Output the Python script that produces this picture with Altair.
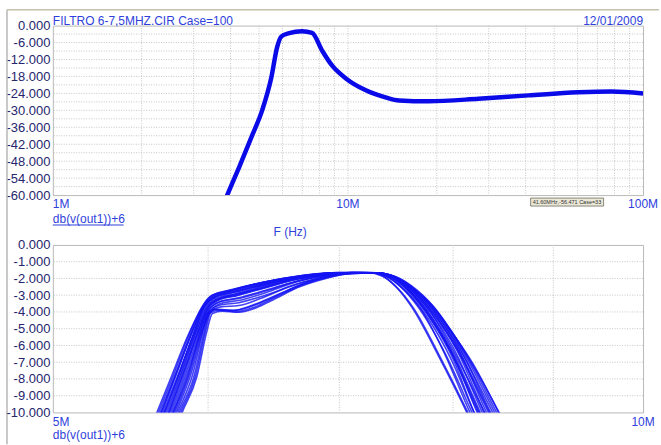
import altair as alt
import pandas as pd

# ---- wide sweep, 1 MHz .. 100 MHz (frequency in MHz, level in dB) ----
TOP_F = [3.70, 3.90, 4.28, 4.74, 5.12, 5.50, 5.75, 5.94, 6.32, 6.99, 7.56, 8.17,
         8.83, 9.84, 11.5, 13.4, 14.9, 18.8, 27.7, 40.9, 60.3, 78.0, 100.0]
TOP_DB = [-66.0, -60.0, -50.1, -38.8, -30.0, -18.4, -7.8, -3.9, -2.7, -2.0, -2.6, -8.8,
          -14.1, -18.7, -22.9, -25.4, -26.5, -26.8, -25.9, -24.7, -23.6, -23.3, -24.0]

# ---- Monte Carlo runs, passband detail 5 MHz .. 10 MHz: (MHz, dB) ----
RUN_01 = [(5.40, -15.6), (5.65, -10.0), (5.75, -7.8), (5.85, -5.6), (5.95, -3.9), (6.02, -3.1),
          (6.15, -2.75), (6.40, -2.25), (6.70, -1.85), (7.00, -1.66), (7.30, -1.66), (7.45, -1.9),
          (7.60, -2.5), (7.80, -3.6), (8.00, -5.3), (8.20, -7.3), (8.40, -9.5), (8.60, -11.8)]
RUN_02 = [(5.40, -16.2), (5.68, -10.0), (5.78, -7.7), (5.88, -5.4), (5.97, -3.7), (6.04, -3.15),
          (6.20, -2.8), (6.45, -2.3), (6.70, -1.9), (7.00, -1.67), (7.25, -1.66), (7.35, -1.8),
          (7.48, -2.5), (7.62, -3.7), (7.87, -6.7), (8.13, -10.0), (8.30, -12.3)]
RUN_03 = [(5.60, -15.5), (5.82, -10.0), (5.92, -7.9), (5.99, -5.2), (6.03, -4.1), (6.10, -3.95),
          (6.22, -4.02), (6.35, -3.75), (6.47, -3.3), (6.68, -2.5), (6.89, -2.0), (7.05, -1.75),
          (7.30, -1.68), (7.45, -1.85), (7.60, -2.6), (7.80, -4.1), (8.00, -6.3), (8.30, -10.0),
          (8.45, -11.9)]
RUN_04 = [(5.55, -15.8), (5.79, -10.0), (5.89, -7.8), (5.96, -5.3), (6.00, -4.1), (6.06, -3.85),
          (6.18, -3.9), (6.32, -3.6), (6.50, -3.0), (6.70, -2.35), (6.90, -1.9), (7.10, -1.68),
          (7.30, -1.67), (7.45, -1.9), (7.60, -2.7), (7.80, -4.3), (8.00, -6.6), (8.25, -10.0),
          (8.40, -12.0)]
RUN_05 = [(5.45, -16.0), (5.72, -10.0), (5.82, -7.6), (5.92, -5.1), (5.99, -3.75), (6.06, -3.25),
          (6.20, -2.95), (6.40, -2.55), (6.65, -2.05), (6.90, -1.75), (7.10, -1.65), (7.30, -1.66),
          (7.45, -1.95), (7.60, -2.8), (7.80, -4.5), (8.00, -6.8), (8.20, -10.0), (8.35, -12.0)]
RUN_06 = [(5.50, -15.8), (5.75, -10.0), (5.85, -7.6), (5.94, -5.2), (6.01, -3.8), (6.08, -3.4),
          (6.22, -3.2), (6.40, -2.8), (6.65, -2.2), (6.90, -1.8), (7.10, -1.66), (7.30, -1.66),
          (7.45, -1.85), (7.60, -2.5), (7.80, -3.9), (8.05, -6.3), (8.35, -10.0), (8.50, -11.9)]
RUN_07 = [(5.45, -15.6), (5.70, -10.0), (5.80, -7.7), (5.90, -5.3), (5.98, -3.6), (6.05, -3.1),
          (6.20, -2.75), (6.45, -2.25), (6.70, -1.88), (7.00, -1.66), (7.30, -1.66), (7.45, -1.9),
          (7.60, -2.6), (7.80, -4.1), (8.00, -6.1), (8.28, -10.0), (8.45, -12.2)]
RUN_08 = [(5.52, -15.7), (5.77, -10.0), (5.87, -7.7), (5.95, -5.3), (6.01, -4.0), (6.08, -3.6),
          (6.22, -3.45), (6.40, -3.05), (6.65, -2.35), (6.90, -1.85), (7.10, -1.67), (7.30, -1.66),
          (7.45, -1.85), (7.60, -2.45), (7.80, -3.75), (8.05, -6.1), (8.38, -10.0), (8.55, -12.1)]
RUN_09 = [(5.42, -15.6), (5.67, -10.0), (5.77, -7.8), (5.87, -5.5), (5.96, -3.7), (6.03, -3.0),
          (6.18, -2.65), (6.45, -2.15), (6.70, -1.82), (7.00, -1.65), (7.28, -1.66), (7.42, -1.95),
          (7.56, -2.75), (7.72, -4.1), (7.92, -6.4), (8.18, -10.0), (8.35, -12.3)]
RUN_10 = [(5.57, -15.6), (5.80, -10.0), (5.90, -7.9), (5.97, -5.3), (6.01, -4.1), (6.08, -3.9),
          (6.20, -3.98), (6.34, -3.7), (6.50, -3.1), (6.72, -2.35), (6.92, -1.92), (7.10, -1.7),
          (7.30, -1.67), (7.48, -1.9), (7.62, -2.45), (7.82, -3.7), (8.08, -6.2), (8.40, -10.0),
          (8.55, -11.8)]
RUN_11 = [(5.48, -15.8), (5.74, -10.0), (5.84, -7.6), (5.93, -5.2), (6.00, -3.8), (6.07, -3.3),
          (6.22, -3.0), (6.42, -2.55), (6.68, -2.0), (6.92, -1.72), (7.12, -1.65), (7.30, -1.67),
          (7.45, -1.95), (7.60, -2.75), (7.80, -4.4), (8.00, -6.6), (8.23, -10.0), (8.40, -12.2)]
RUN_12 = [(5.46, -15.7), (5.71, -10.0), (5.81, -7.7), (5.91, -5.3), (5.99, -3.65), (6.06, -3.2),
          (6.20, -2.9), (6.42, -2.4), (6.68, -1.95), (6.95, -1.7), (7.15, -1.65), (7.32, -1.67),
          (7.47, -1.9), (7.62, -2.55), (7.82, -3.95), (8.05, -6.2), (8.32, -10.0), (8.48, -11.9)]
RUN_13 = [(5.52, -15.6), (5.76, -10.0), (5.86, -7.8), (5.94, -5.3), (5.99, -4.1), (6.05, -3.85),
          (6.17, -3.92), (6.30, -3.7), (6.47, -3.15), (6.68, -2.4), (6.90, -1.9), (7.08, -1.7),
          (7.26, -1.66), (7.40, -1.9), (7.54, -2.6), (7.70, -3.8), (7.90, -6.2), (8.16, -10.0),
          (8.32, -12.1)]
RUN_14 = [(5.44, -15.6), (5.69, -10.0), (5.79, -7.8), (5.89, -5.5), (5.97, -3.7), (6.04, -3.05),
          (6.18, -2.7), (6.42, -2.2), (6.70, -1.84), (7.00, -1.66), (7.30, -1.66), (7.45, -1.88),
          (7.60, -2.45), (7.80, -3.55), (8.02, -5.5), (8.20, -7.4), (8.42, -10.0), (8.60, -12.1)]
RUN_15 = [(5.54, -15.7), (5.78, -10.0), (5.88, -7.7), (5.96, -5.2), (6.02, -3.9), (6.09, -3.5),
          (6.23, -3.3), (6.42, -2.85), (6.66, -2.2), (6.90, -1.8), (7.10, -1.66), (7.30, -1.66),
          (7.45, -1.92), (7.60, -2.7), (7.80, -4.3), (8.02, -6.7), (8.26, -10.0), (8.42, -12.0)]
RUN_16 = [(5.48, -15.7), (5.73, -10.0), (5.83, -7.6), (5.93, -5.2), (6.00, -3.7), (6.07, -3.25),
          (6.21, -2.95), (6.42, -2.45), (6.68, -1.98), (6.95, -1.7), (7.15, -1.65), (7.32, -1.66),
          (7.47, -1.88), (7.62, -2.5), (7.82, -3.85), (8.06, -6.1), (8.36, -10.0), (8.52, -11.9)]
RUN_17 = [(5.41, -15.6), (5.66, -10.0), (5.76, -7.8), (5.86, -5.5), (5.95, -3.8), (6.02, -3.05),
          (6.16, -2.7), (6.42, -2.2), (6.70, -1.83), (7.00, -1.65), (7.28, -1.66), (7.43, -1.92),
          (7.58, -2.65), (7.76, -4.1), (7.98, -6.4), (8.24, -10.0), (8.40, -12.1)]
RUN_18 = [(5.58, -15.6), (5.81, -10.0), (5.91, -7.9), (5.98, -5.2), (6.02, -4.0), (6.09, -3.7),
          (6.22, -3.62), (6.38, -3.2), (6.58, -2.55), (6.80, -2.05), (7.00, -1.75), (7.20, -1.66),
          (7.34, -1.68), (7.48, -1.95), (7.62, -2.65), (7.82, -4.1), (8.06, -6.5), (8.34, -10.0),
          (8.50, -12.0)]
RUN_19 = [(5.45, -15.6), (5.70, -10.0), (5.80, -7.7), (5.90, -5.3), (5.98, -3.65), (6.05, -3.15),
          (6.20, -2.8), (6.45, -2.28), (6.70, -1.9), (7.00, -1.66), (7.24, -1.66), (7.36, -1.85),
          (7.50, -2.6), (7.64, -3.8), (7.88, -6.7), (8.14, -10.0), (8.30, -12.1)]
RUN_20 = [(5.51, -15.7), (5.76, -10.0), (5.86, -7.6), (5.95, -5.2), (6.01, -3.85), (6.08, -3.4),
          (6.22, -3.15), (6.42, -2.7), (6.66, -2.15), (6.92, -1.76), (7.12, -1.66), (7.30, -1.66),
          (7.45, -1.85), (7.58, -2.3), (7.78, -3.5), (8.02, -5.5), (8.18, -7.0), (8.44, -10.0),
          (8.60, -11.9)]
RUN_21 = [(5.48, -15.8), (5.73, -10.0), (5.83, -7.6), (5.93, -5.1), (6.00, -3.75), (6.07, -3.3),
          (6.21, -3.0), (6.41, -2.55), (6.66, -2.05), (6.91, -1.74), (7.11, -1.65), (7.28, -1.66),
          (7.43, -1.95), (7.58, -2.8), (7.78, -4.5), (7.98, -6.8), (8.20, -10.0), (8.36, -12.1)]
RUN_22 = [(5.43, -15.6), (5.68, -10.0), (5.78, -7.7), (5.88, -5.4), (5.97, -3.7), (6.04, -3.1),
          (6.18, -2.75), (6.43, -2.25), (6.70, -1.86), (7.00, -1.66), (7.30, -1.66), (7.45, -1.88),
          (7.60, -2.55), (7.80, -4.0), (8.03, -6.2), (8.30, -10.0), (8.46, -12.0)]
RUNS = [RUN_01, RUN_02, RUN_03, RUN_04, RUN_05, RUN_06, RUN_07, RUN_08, RUN_09, RUN_10, RUN_11,
        RUN_12, RUN_13, RUN_14, RUN_15, RUN_16, RUN_17, RUN_18, RUN_19, RUN_20, RUN_21, RUN_22]

# ---- axes, grids, labels ----
TOP_YTICKS = [0, -6, -12, -18, -24, -30, -36, -42, -48, -54, -60]
TOP_HGRID = [-3, -6, -9, -12, -15, -18, -21, -24, -27, -30, -33, -36, -39, -42, -45, -48, -51, -54, -57]
TOP_VGRID = [2, 3, 4, 5, 6, 7, 8, 9, 10, 20, 30, 40, 50, 60, 70, 80, 90]
TOP_XLABEL_F = [1, 10, 100]
TOP_XLABELS = ["1M", "10M", "100M"]
TOP_XLABEL_ALIGN = ["left", "center", "center"]

BOT_YTICKS = [0, -1, -2, -3, -4, -5, -6, -7, -8, -9, -10]
BOT_HGRID = [-1, -2, -3, -4, -5, -6, -7, -8, -9]
BOT_VGRID = [6, 7, 8, 9]
BOT_XLABEL_F = [5, 10]
BOT_XLABELS = ["5M", "10M"]
BOT_XLABEL_ALIGN = ["left", "center"]

TITLE = "FILTRO 6-7,5MHZ.CIR Case=100"
DATE = "12/01/2009"
TRACE = "db(v(out1))+6"
XTITLE = "F (Hz)"
READOUT = "41.60MHz,-56.471 Case=33"
READOUT_F = [41.6, 73.5]

FONT = "Liberation Sans"
BLUE = "#2f3fdc"
NAVY = "#26266e"
TRACE_BLUE = "#0a0ae8"
GRID = "#c6c6c6"
W, H1, H2 = 592, 170, 168


def y_axis(ticks):
    return alt.Axis(values=ticks, title=None, grid=False, ticks=False, domain=False,
                    labelExpr="(datum.value < 0 ? '-' : '') + format(abs(datum.value), '.3f')",
                    labelPadding=3, labelFontSize=13, labelFont=FONT, labelColor=NAVY,
                    labelOverlap=False, labelFlush=False, labelBound=False)


def panel(fdom, ydom, yticks, hgrid, vgrid, xf, xl, xa, h, lx_y):
    xs = alt.Scale(type="log", domain=fdom, nice=False)
    ys = alt.Scale(domain=ydom, nice=False, zero=False)
    yenc = alt.Y("db:Q", scale=ys, axis=y_axis(yticks))
    xenc = alt.X("f:Q", scale=xs, axis=None)

    vg = alt.Chart(pd.DataFrame({"f": vgrid})).mark_rule(
        color=GRID, strokeDash=[1, 1.5], strokeWidth=1).encode(x=xenc)
    hg = alt.Chart(pd.DataFrame({"db": hgrid})).mark_rule(
        color=GRID, strokeDash=[1, 1.5], strokeWidth=1).encode(y=yenc)
    layers = [vg, hg]
    for al in ["left", "center"]:
        rows = [(f, t) for f, t, a in zip(xf, xl, xa) if a == al]
        if rows:
            df = pd.DataFrame({"f": [r[0] for r in rows], "t": [r[1] for r in rows]})
            layers.append(alt.Chart(df).mark_text(
                align=al, baseline="top", font=FONT, fontSize=12, color=BLUE
            ).encode(x=xenc, y=alt.value(h + lx_y), text="t:N"))
    return layers, xenc, yenc


# top panel
t_layers, t_x, t_y = panel([1, 100], [-60, 0], TOP_YTICKS, TOP_HGRID, TOP_VGRID,
                           TOP_XLABEL_F, TOP_XLABELS, TOP_XLABEL_ALIGN, H1, 4)
top_df = pd.DataFrame({"f": TOP_F, "db": TOP_DB})
t_curve = alt.Chart(top_df).mark_line(
    color=TRACE_BLUE, strokeWidth=4.5, clip=True, interpolate="monotone"
).encode(x=t_x, y=t_y)

one = pd.DataFrame({"t": [""]})
frame_left = alt.Chart(one).mark_rule(color="#b6b6b6", strokeWidth=1.5).encode(
    x=alt.value(-46), y=alt.value(-16), y2=alt.value(445 - 25))
frame_top = alt.Chart(one).mark_rule(color="#c6c2aa", strokeWidth=1.5).encode(
    x=alt.value(-46), x2=alt.value(661 - 53), y=alt.value(-16))
title = alt.Chart(pd.DataFrame({"t": [TITLE]})).mark_text(
    align="left", baseline="alphabetic", font=FONT, fontSize=12, color=BLUE
).encode(x=alt.value(0), y=alt.value(-1), text="t:N")
date = alt.Chart(pd.DataFrame({"t": [DATE]})).mark_text(
    align="right", baseline="alphabetic", font=FONT, fontSize=12, color=BLUE
).encode(x=alt.value(W), y=alt.value(-1), text="t:N")
trace = alt.Chart(pd.DataFrame({"t": [TRACE]})).mark_text(
    align="left", baseline="middle", font=FONT, fontSize=12, color=BLUE
).encode(x=alt.value(0), y=alt.value(H1 + 24), text="t:N")
underline = alt.Chart(one).mark_rule(color=BLUE, strokeWidth=1).encode(
    x=alt.value(0), x2=alt.value(71), y=alt.value(H1 + 30))
xtitle = alt.Chart(pd.DataFrame({"t": [XTITLE]})).mark_text(
    align="center", baseline="middle", font=FONT, fontSize=12, color=BLUE
).encode(x=alt.value(238), y=alt.value(H1 + 37), text="t:N")
readout_box = alt.Chart(pd.DataFrame({"f": [READOUT_F[0]], "f2": [READOUT_F[1]]})).mark_rect(
    fill="#ebe8d8", stroke="#6b6b5a", strokeWidth=0.8
).encode(x=t_x, x2="f2:Q", y=alt.value(H1 + 3), y2=alt.value(H1 + 11))
readout = alt.Chart(pd.DataFrame({"f": [READOUT_F[0]], "t": [READOUT]})).mark_text(
    align="left", baseline="middle", font=FONT, fontSize=5.5, color="#333333", dx=2
).encode(x=t_x, y=alt.value(H1 + 7), text="t:N")

top = alt.layer(frame_left, frame_top, *t_layers, t_curve, title, date, trace,
                underline, xtitle, readout_box, readout).properties(width=W, height=H1)

# bottom panel
b_layers, b_x, b_y = panel([5, 10], [-10, 0], BOT_YTICKS, BOT_HGRID, BOT_VGRID,
                           BOT_XLABEL_F, BOT_XLABELS, BOT_XLABEL_ALIGN, H2, 5)
rows = []
for i, run in enumerate(RUNS):
    for f, db in run:
        rows.append({"run": i + 1, "f": f, "db": db})
runs_df = pd.DataFrame(rows)
b_curves = alt.Chart(runs_df).mark_line(
    color="#1414f2", strokeWidth=1.6, opacity=0.8, clip=True, interpolate="monotone"
).encode(x=b_x, y=b_y, detail="run:N")
trace2 = alt.Chart(pd.DataFrame({"t": [TRACE]})).mark_text(
    align="left", baseline="middle", font=FONT, fontSize=12, color=BLUE
).encode(x=alt.value(0), y=alt.value(H2 + 23), text="t:N")

bottom = alt.layer(*b_layers, b_curves, trace2).properties(width=W, height=H2)

chart = alt.vconcat(top, bottom, spacing=50, bounds="flush").properties(
    padding={"left": 5, "top": 7, "right": 0, "bottom": 0},
    background="white",
).configure_view(stroke="#b9b9b9", strokeWidth=1)

chart.save("out.html", embed_options={"renderer": "svg", "actions": False})
